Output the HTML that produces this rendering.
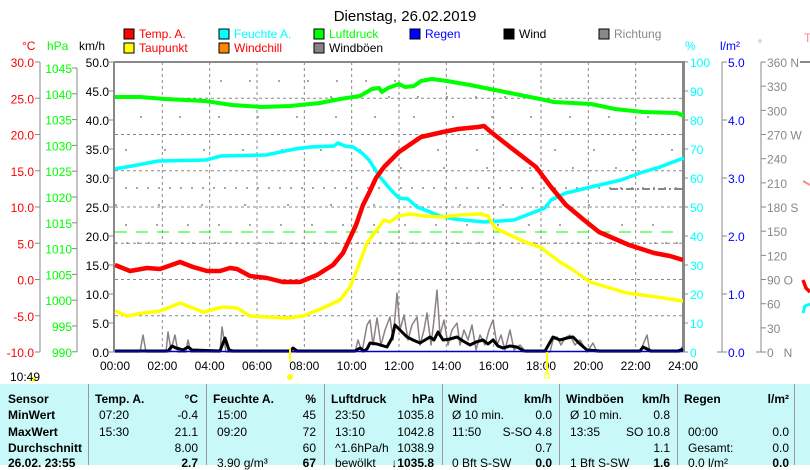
<!DOCTYPE html>
<html><head><meta charset="utf-8"><style>
body{margin:0;background:#fff;width:810px;height:465px;overflow:hidden;position:relative;font-family:"Liberation Sans",Arial,sans-serif}
svg{position:absolute;left:0;top:0}
.t{position:absolute;font-size:12px;white-space:nowrap;line-height:14px}
.b{font-weight:bold}
</style></head><body>
<svg id="s" width="810" height="465" font-family="Liberation Sans, Arial, sans-serif" font-size="12"></svg>
<div style="position:absolute;left:0;top:384px;width:810px;height:81px;background:#c8f8f8"></div>
<div id="tb"></div>
<script>
const S=document.getElementById('s');let h='';
const X=hr=>115+hr*23.667;
h+='<text x="405" y="21" font-size="15" text-anchor="middle">Dienstag, 26.02.2019</text>';
const lg=[[124,38,'#f00','Temp. A.','#f00'],[219,38,'#0ff','Feuchte A.','#0ff'],[314,38,'#0f0','Luftdruck','#0f0'],[410,38,'#00f','Regen','#00f'],[504,38,'#000','Wind','#000'],[599,38,'#888','Richtung','#888'],
[124,52,'#ff0','Taupunkt','#f00'],[219,52,'#f80','Windchill','#f00'],[314,52,'#8a8088','Windböen','#000']];
lg.forEach(l=>{h+=`<rect x="${l[0]}" y="${l[1]-9}" width="10" height="10" fill="${l[2]}" stroke="#000"/><text x="${l[0]+15}" y="${l[1]}" fill="${l[4]}">${l[3]}</text>`});
h+='<text x="22" y="50" fill="#f00">°C</text><text x="47" y="50" fill="#0f0">hPa</text><text x="79" y="50">km/h</text>';
h+='<text x="685" y="50" fill="#0ff">%</text><text x="720" y="50" fill="#00f">l/m²</text><text x="758" y="47" fill="#888" font-size="10">°</text><text x="804" y="42" fill="#f88">T</text>';
for(let i=1;i<12;i++)h+=`<line x1="${X(2*i)}" y1="62" x2="${X(2*i)}" y2="352" stroke="#888" stroke-dasharray="3 3"/>`;
for(let i=1;i<8;i++){let y=62+i*36.25;h+=`<line x1="115" y1="${y}" x2="683" y2="${y}" stroke="#888" stroke-dasharray="3 3"/>`}
[[188,125,683,9],[243,115,683,9],[81,220,470,27],[97,330,560,27],[117,140,680,37],[150,125,680,37],[225,125,683,29],[205,115,600,41],[168,400,683,41]].forEach(d=>{h+=`<line x1="${d[1]}" y1="${d[0]}" x2="${d[2]}" y2="${d[0]}" stroke="#888" stroke-width="1.5" stroke-dasharray="2 ${d[3]}"/>`});
h+='<line x1="610" y1="189" x2="683" y2="189" stroke="#888" stroke-width="2" stroke-dasharray="8 3 2 3"/>';
h+='<line x1="115" y1="232" x2="683" y2="232" stroke="#0f0" stroke-dasharray="12 9"/>';
h+='<line x1="114" y1="62" x2="683" y2="62" stroke="#888" stroke-width="2"/><line x1="114" y1="62" x2="114" y2="352" stroke="#888" stroke-width="2"/><line x1="683.5" y1="61" x2="683.5" y2="352" stroke="#888" stroke-width="3"/>';
h+='<line x1="40" y1="62" x2="40" y2="352" stroke="#888"/><line x1="77" y1="68" x2="77" y2="352" stroke="#888"/><line x1="722" y1="62" x2="722" y2="352" stroke="#888"/><line x1="761" y1="62" x2="761" y2="352" stroke="#888"/>';
for(let i=0;i<=10;i++){let y=62+i*29;h+=`<line x1="109" y1="${y}" x2="115" y2="${y}" stroke="#888"/><text x="109" y="${y+5}" text-anchor="end">${(50-5*i).toFixed(1)}</text>`;
 h+=`<line x1="683" y1="${y}" x2="688" y2="${y}" stroke="#888"/><text x="690" y="${y+5}" fill="#0ff">${100-10*i}</text>`;}
for(let i=0;i<=8;i++){let y=62+i*36.25;h+=`<line x1="35" y1="${y}" x2="40" y2="${y}" stroke="#888"/><text x="34" y="${y+5}" text-anchor="end" fill="#f00">${(30-5*i).toFixed(1)}</text>`}
for(let i=0;i<=11;i++){let y=68+i*25.8;h+=`<line x1="72" y1="${y}" x2="77" y2="${y}" stroke="#888"/><text x="72" y="${y+5}" text-anchor="end" fill="#0f0">${1045-5*i}</text>`}
for(let i=0;i<=5;i++){let y=62+i*58;h+=`<line x1="722" y1="${y}" x2="727" y2="${y}" stroke="#888"/><text x="728" y="${y+5}" fill="#00f">${(5-i).toFixed(1)}</text>`}
h+='<line x1="717" y1="352" x2="722" y2="352" stroke="#888"/><line x1="756" y1="352" x2="761" y2="352" stroke="#888"/>';
const dl={360:'N',270:'W',180:'S',90:'O',0:'N'};
for(let i=0;i<=12;i++){let v=360-30*i,y=62+i*24.17;h+=`<line x1="761" y1="${y}" x2="766" y2="${y}" stroke="#888"/><text x="767" y="${y+5}" fill="#888">${v}${dl[v]!==undefined?(v==0?'&#160;&#160;&#160;'+dl[v]:' '+dl[v]):''}</text>`}
h+='<line x1="800" y1="62" x2="810" y2="62" stroke="#888" stroke-width="2"/>';
for(let i=0;i<=12;i++)h+=`<text x="${X(2*i)}" y="370" text-anchor="middle">${String(2*i).padStart(2,'0')}:00</text>`;
const pl=(pts,c,w)=>{h+=`<polyline points="${pts.map(p=>p.join(',')).join(' ')}" fill="none" stroke="${c}" stroke-width="${w}" stroke-linejoin="round"/>`};
pl([[115,352],[140,352],[143,335],[146,352],[166,352],[168,332],[171,350],[175,335],[178,352],[186,352],[188,340],[191,352],[220,352],[222,327],[226,352],[355,352],[358,340],[362,352],[367,325],[370,320],[373,345],[377,318],[381,345],[385,330],[390,317],[393,340],[397,293],[400,330],[404,315],[408,340],[412,325],[417,317],[420,345],[424,330],[427,313],[431,345],[434,320],[437,290],[440,335],[444,320],[448,345],[452,330],[457,323],[460,345],[464,330],[468,340],[472,325],[476,350],[480,335],[485,345],[489,330],[493,320],[497,345],[501,335],[505,350],[510,330],[514,350],[520,345],[526,352],[550,352],[553,340],[557,337],[561,345],[565,338],[570,335],[575,345],[580,340],[587,352],[593,343],[597,352],[640,352],[645,340],[647,335],[650,352],[680,352],[683,345]],'#8a8088',1.5);
pl([[115,351],[168,351],[172,346],[176,348],[180,349],[183,350],[188,347],[192,350],[220,351],[225,338],[229,350],[233,351],[290,351],[293,348],[297,351],[355,351],[360,348],[364,351],[367,349],[370,343],[377,344],[387,347],[392,338],[395,325],[400,330],[407,337],[413,340],[420,343],[425,340],[430,337],[434,340],[438,332],[443,340],[450,339],[457,337],[463,341],[470,345],[476,342],[483,340],[488,344],[493,340],[498,346],[503,348],[510,346],[517,347],[524,351],[545,351],[549,344],[553,337],[560,340],[567,338],[573,337],[580,344],[587,350],[600,351],[640,351],[643,347],[647,349],[651,351],[678,351],[683,349]],'#000',3);
h+='<line x1="115" y1="351.5" x2="683" y2="351.5" stroke="#00c" stroke-width="1.5"/>';
pl([[115,97],[140,97],[165,99],[205,101],[232,105],[262,107],[290,106],[320,103],[340,99],[360,96],[372,89],[379,88],[382,92],[388,88],[399,84],[405,87],[414,86],[421,81],[432,79],[447,81],[470,85],[495,90],[520,95],[540,99],[554,102],[591,104],[615,109],[643,112],[677,113],[684,116]],'#0f0',4);
pl([[115,169],[132,166],[158,161],[206,160],[221,156],[266,155],[295,149],[310,147],[334,146],[338,143],[345,146],[353,147],[362,153],[369,160],[380,177],[391,190],[399,198],[408,199],[417,207],[430,212],[440,216],[454,219],[484,222],[514,220],[532,213],[545,208],[551,200],[566,193],[591,187],[621,180],[640,173],[660,167],[673,162],[684,158]],'#0ff',3.5);
pl([[115,311],[127,316],[143,313],[160,311],[180,303],[203,312],[223,307],[237,308],[250,316],[287,318],[303,316],[323,308],[340,300],[350,287],[358,267],[367,243],[378,228],[384,220],[390,222],[398,216],[410,214],[425,216],[443,217],[460,215],[480,214],[488,216],[495,228],[510,235],[525,242],[540,247],[560,262],[573,270],[590,282],[607,287],[627,293],[657,297],[683,301]],'#ff0',3.5);
pl([[115,265],[130,271],[147,268],[160,269],[180,262],[193,267],[207,271],[220,271],[230,268],[237,269],[250,276],[267,278],[283,282],[300,282],[317,275],[333,265],[343,253],[350,238],[356,225],[363,205],[369,193],[376,178],[384,167],[399,152],[421,137],[443,132],[458,129],[478,127],[484,126],[491,132],[510,147],[536,167],[551,187],[566,205],[584,220],[599,232],[629,245],[654,253],[670,256],[683,260]],'#f00',4.5);
h+='<line x1="290" y1="348" x2="290" y2="362" stroke="#ff0" stroke-width="2"/><line x1="547" y1="352" x2="547" y2="372" stroke="#ff0" stroke-width="2"/><circle cx="290" cy="377" r="3" fill="#ff0"/><rect x="545" y="373" width="4" height="5" fill="none" stroke="#ff0"/><path d="M29 381 a4 4 0 0 1 8 0 z" fill="#ff0"/>';
h+='<text x="10" y="381">10:49</text>';
h+='<polyline points="803,181 810,185" stroke="#f88" stroke-width="2" fill="none"/><polyline points="803,280 806,288 810,292" stroke="#f00" stroke-width="3.5" fill="none"/><polyline points="803,313 805,306 810,304" stroke="#0ff" stroke-width="3" fill="none"/><line x1="805" y1="395" x2="810" y2="400" stroke="#ff0" stroke-width="2"/>';
S.innerHTML=h;
let t='';const T=(x,y,s,c,al)=>{t+=`<div class="t ${c||''}" style="${al?'right:'+(810-x)+'px':'left:'+x+'px'};top:${y}px">${s}</div>`};
[88,206,324,442,559,677,794].forEach(x=>t+=`<div style="position:absolute;left:${x}px;top:384px;width:1px;height:81px;background:#999"></div>`);
const rows=[392,408,425,441,456];
T(8,rows[0],'Sensor','b');T(8,rows[1],'MinWert','b');T(8,rows[2],'MaxWert','b');T(8,rows[3],'Durchschnitt','b');T(8,rows[4],'26.02. 23:55','b');
const cols=[[95,198,'Temp. A.','°C',['07:20','-0.4'],['15:30','21.1'],['','8.00'],['','<b>2.7</b>']],
[213,316,'Feuchte A.','%',['15:00','45'],['09:20','72'],['','60'],['3.90 g/m³','<b>67</b>']],
[331,434,'Luftdruck','hPa',['23:50','1035.8'],['13:10','1042.8'],['^1.6hPa/h','1038.9'],['bewölkt','<b>↓1035.8</b>']],
[448,552,'Wind','km/h',['Ø 10 min.','0.0'],['11:50','S-SO 4.8'],['','0.7'],['0 Bft S-SW','<b>0.0</b>']],
[566,670,'Windböen','km/h',['Ø 10 min.','0.8'],['13:35','SO 10.8'],['','1.1'],['1 Bft S-SW','<b>1.6</b>']],
[684,789,'Regen','l/m²',['',''],['00:00','0.0'],['Gesamt:','0.0'],['0.0 l/m²','<b>0.0</b>']]];
cols.forEach(c=>{T(c[0],rows[0],c[2],'b');T(c[1],rows[0],c[3],'b',1);for(let r=0;r<4;r++){T(c[0]+4,rows[r+1],c[4+r][0]);T(c[1],rows[r+1],c[4+r][1],'',1)}});
document.getElementById('tb').innerHTML=t;
</script>
</body></html>
